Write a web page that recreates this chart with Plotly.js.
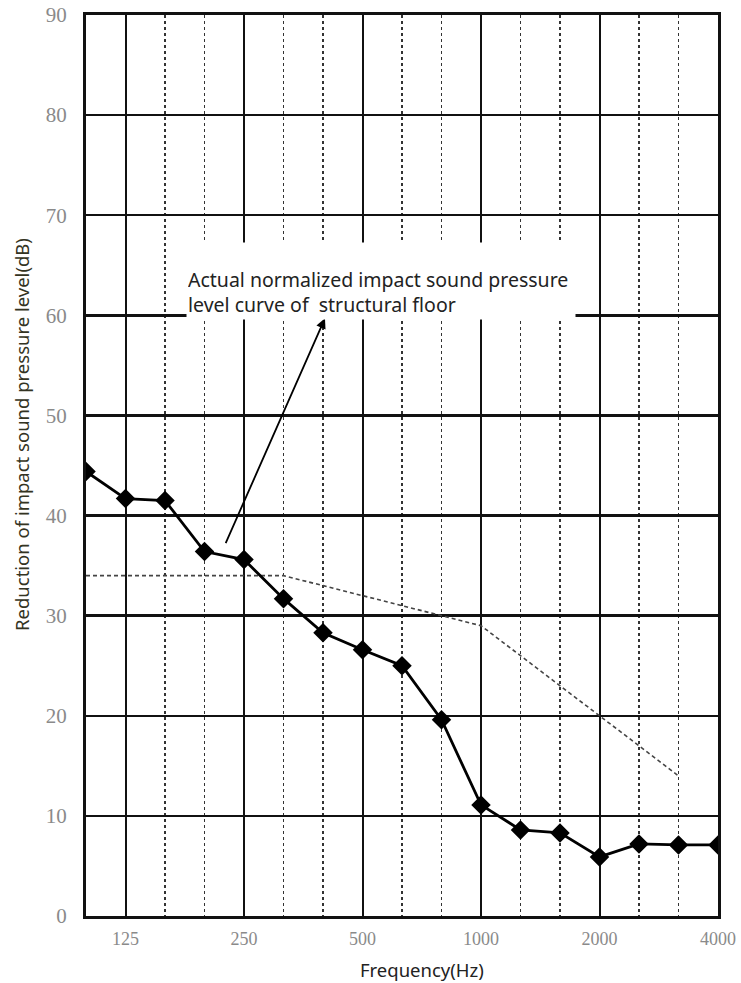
<!DOCTYPE html>
<html>
<head>
<meta charset="utf-8">
<script src="https://cdn.plot.ly/plotly-3.0.1.min.js"></script>
<style>html,body{margin:0;padding:0;background:#fff;}#chart{width:741px;height:983px;}</style>
</head>
<body>
<div id="chart"></div>
<script>
const freqs = ["100","125","160","200","250","315","400","500","630","800","1000","1250","1600","2000","2500","3150","4000"];
const measured = [44.4, 41.7, 41.5, 36.4, 35.6, 31.7, 28.3, 26.6, 25.0, 19.6, 11.1, 8.6, 8.3, 5.9, 7.2, 7.1, 7.1];
const refFreqs = ["100","125","160","200","250","315","400","500","630","800","1000","1250","1600","2000","2500","3150"];
const reference = [34, 34, 34, 34, 34, 34, 33, 32, 31, 30, 29, 26, 23, 20, 17, 14];
const octaveLabels = ["125","250","500","1000","2000","4000"];

const idx = f => freqs.indexOf(f);

const traces = [
  {
    x: refFreqs.map(idx), y: reference, mode: 'lines', type: 'scatter',
    line: {color: '#444', width: 1.6, dash: '4px,3px'}, hoverinfo: 'skip'
  },
  {
    x: freqs.map(idx), y: measured, mode: 'lines+markers', type: 'scatter',
    line: {color: '#000', width: 2.8},
    marker: {symbol: 'diamond', size: 15, color: '#000'}
  }
];

const layout = {
  width: 741, height: 983,
  margin: {l: 86, r: 23, t: 15, b: 67},
  paper_bgcolor: '#fff', plot_bgcolor: '#fff',
  showlegend: false,
  xaxis: {
    range: [0, freqs.length - 1],
    tickmode: 'array',
    tickvals: octaveLabels.map(idx),
    ticktext: octaveLabels,
    ticks: '',
    ticklabelstandoff: 4,
    showgrid: true, gridcolor: '#111', gridwidth: 2,
    minor: {dtick: 1, tick0: 0, showgrid: true, gridcolor: '#333', gridwidth: 1.8, griddash: 'dot', ticks: ''},
    zeroline: false,
    showline: true, linecolor: '#111', linewidth: 3, mirror: true,
    tickfont: {family: 'Liberation Serif, serif', size: 18, color: '#8a8a8a'},
    fixedrange: true
  },
  yaxis: {
    range: [0, 90], dtick: 10, tick0: 0,
    ticks: '',
    ticklabelstandoff: 12,
    showgrid: true, gridcolor: '#111', gridwidth: 2.5,
    zeroline: false,
    showline: true, linecolor: '#111', linewidth: 3, mirror: true,
    tickfont: {family: 'Liberation Serif, serif', size: 21, color: '#8a8a8a'},
    fixedrange: true
  },
  annotations: [
    {
      xref: 'x', yref: 'y', x: 6.05, y: 59.7,
      axref: 'x', ayref: 'y', ax: 3.52, ay: 37.1,
      showarrow: true, arrowhead: 2, arrowsize: 1.1, arrowwidth: 1.8, arrowcolor: '#000',
      text: ''
    },
    {
      xref: 'x', yref: 'y', x: 2.52, y: 67.3,
      xanchor: 'left', yanchor: 'top',
      showarrow: false,
      text: 'Actual normalized impact sound pressure<br>level curve of  structural floor',
      align: 'left', valign: 'bottom',
      width: 386, height: 74,
      bgcolor: '#fff', borderpad: 1,
      font: {family: 'Noto Sans, sans-serif', size: 19.5, color: '#222'}
    },
    {
      xref: 'paper', yref: 'paper',
      x: (422 - 86) / 632, y: (916 - 969) / 901,
      xanchor: 'center', yanchor: 'middle', showarrow: false,
      text: 'Frequency(Hz)',
      font: {family: 'Noto Sans, sans-serif', size: 18.5, color: '#222'}
    },
    {
      xref: 'paper', yref: 'paper',
      x: (21 - 86) / 632, y: (916 - 435) / 901,
      xanchor: 'center', yanchor: 'middle', showarrow: false,
      textangle: -90,
      text: 'Reduction of impact sound pressure level(dB)',
      font: {family: 'Noto Sans, sans-serif', size: 18.5, color: '#332'}
    }
  ]
};

Plotly.newPlot('chart', traces, layout, {displayModeBar: false, staticPlot: true});
</script>
</body>
</html>
